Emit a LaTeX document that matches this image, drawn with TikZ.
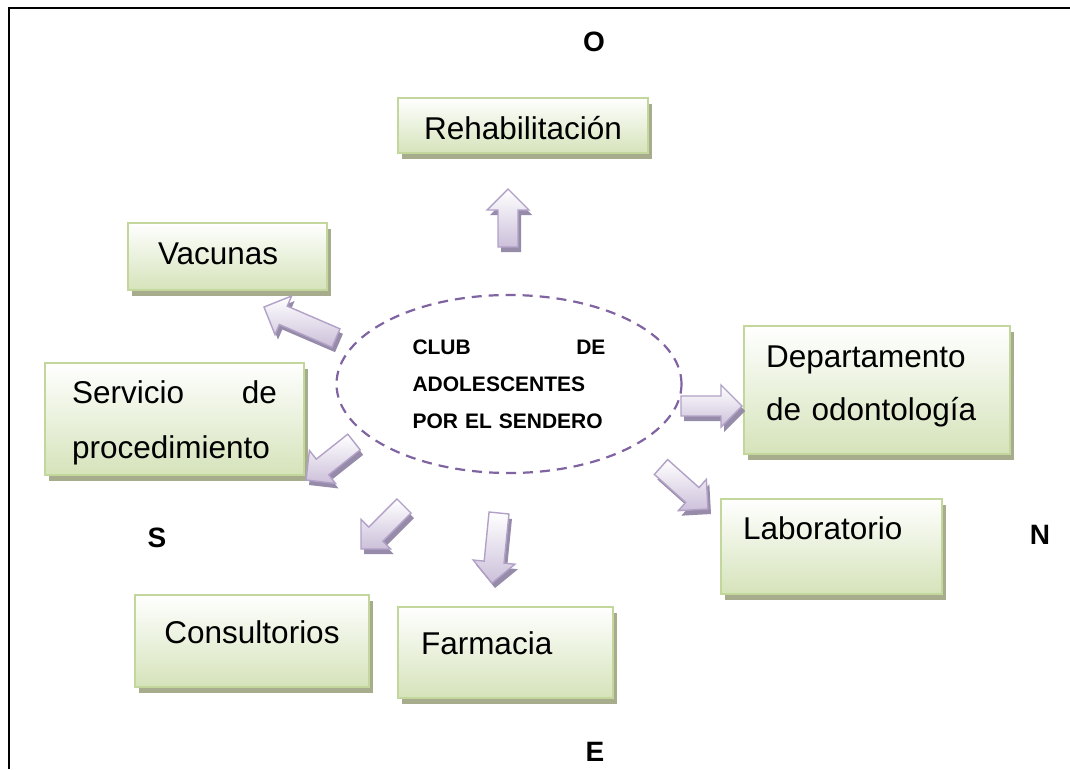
\documentclass[tikz,border=0pt]{standalone}
\usepackage{fontspec}
\setmainfont{Liberation Sans}
\usetikzlibrary{calc}
\usetikzlibrary{shapes.geometric}
\usetikzlibrary{shadows}

\definecolor{boxline}{RGB}{195,214,155}
\definecolor{boxfill}{RGB}{213,227,186}
\definecolor{boxshadow}{RGB}{166,172,140}
\definecolor{clubline}{RGB}{128,100,162}
\definecolor{arrline}{RGB}{178,161,199}
\definecolor{arrfill}{RGB}{204,192,218}
\definecolor{arrshadow}{RGB}{150,139,168}
\newcommand{\clubgap}{\hskip 0pt plus 1filll}

\begin{document}
\begin{tikzpicture}[x=1pt,y=-1pt,inner sep=0pt,outer sep=0pt,
box/.style={draw=boxline,line width=1.8pt,top color=white,bottom color=boxfill,
  drop shadow={shadow xshift=4pt,shadow yshift=-6pt,fill=boxshadow,opacity=1},
  anchor=north west,inner ysep=0pt,align=left,font=\fontsize{31.5}{54}\selectfont},
club/.style={draw=clubline,ellipse,line width=2.2pt,dash pattern=on 10pt off 7pt,
  minimum width=345pt,minimum height=178pt,text width=193pt,align=left,
  font=\bfseries\fontsize{21}{37}\selectfont},
compass/.style={font=\bfseries\fontsize{28}{30}\selectfont},
blockarr/.style={draw=arrline,line width=1.4pt,top color=white,bottom color=arrfill,
  drop shadow={shadow xshift=3pt,shadow yshift=-5pt,fill=arrshadow,opacity=1},
  to path={($(\tikztostart)!10pt!90:(\tikztotarget)$)
    -- ($(\tikztotarget)!21pt!(\tikztostart)!10pt!90:(\tikztotarget)$)
    -- ($(\tikztotarget)!21pt!(\tikztostart)!21pt!90:(\tikztotarget)$)
    -- (\tikztotarget)
    -- ($(\tikztotarget)!21pt!(\tikztostart)!21pt!-90:(\tikztotarget)$)
    -- ($(\tikztotarget)!21pt!(\tikztostart)!10pt!-90:(\tikztotarget)$)
    -- ($(\tikztostart)!10pt!-90:(\tikztotarget)$) -- cycle}}]
\useasboundingbox (0,0) rectangle (1070,769);
\fill[white] (0,0) rectangle (1070,769);
\draw[line width=1.5pt] (9,769) -- (9,8) -- (1070,8);
% centre
\node[club] (club) at (509,384) {CLUB\clubgap DE\\ADOLESCENTES\\POR EL SENDERO};
% services
\node[box,align=center,inner xsep=10pt,text width=230pt,text height=41pt,text depth=14pt] (reha) at (398,98) {Rehabilitación};
\node[box,inner xsep=30pt,text width=139pt,text height=41pt,text depth=26pt] (vac) at (128,223) {Vacunas};
\node[box,inner xsep=27pt,text width=205pt,text height=40pt,text depth=72pt,font=\fontsize{31.5}{55}\selectfont] (serv) at (45,363) {Servicio\clubgap de\\procedimiento};
\node[box,inner xsep=22pt,text width=222pt,text height=41pt,text depth=87pt,font=\fontsize{31.5}{53}\selectfont] (dept) at (744,326) {Departamento\\de odontología};
\node[box,inner xsep=22pt,text width=177pt,text height=40pt,text depth=55pt] (lab) at (721,499) {Laboratorio};
\node[box,align=center,inner xsep=20pt,text width=194pt,text height=48pt,text depth=44pt] (cons) at (135,595) {Consultorios};
\node[box,inner xsep=23pt,text width=169pt,text height=47pt,text depth=44pt] (farm) at (398,607) {Farmacia};
% compass letters
\node[compass] (west) at (594,42) {O};
\node[compass] (south) at (157,538) {S};
\node[compass] (north) at (1040,535) {N};
\node[compass] (east) at (595,752) {E};
% block arrows
\coordinate (reha-s) at (508,247); \coordinate (reha-t) at (508,189);
\coordinate (vac-s) at (336,338); \coordinate (vac-t) at (264,307);
\coordinate (serv-s) at (354,442); \coordinate (serv-t) at (306,480);
\coordinate (cons-s) at (404,506); \coordinate (cons-t) at (361,549);
\coordinate (farm-s) at (499,513); \coordinate (farm-t) at (492,583);
\coordinate (dept-s) at (681,406); \coordinate (dept-t) at (742,406);
\coordinate (lab-s) at (661,467); \coordinate (lab-t) at (708,509);
\draw[blockarr] (reha-s) to (reha-t);
\draw[blockarr] (vac-s) to (vac-t);
\draw[blockarr] (serv-s) to (serv-t);
\draw[blockarr] (cons-s) to (cons-t);
\draw[blockarr] (farm-s) to (farm-t);
\draw[blockarr] (dept-s) to (dept-t);
\draw[blockarr] (lab-s) to (lab-t);
\end{tikzpicture}
\end{document}
